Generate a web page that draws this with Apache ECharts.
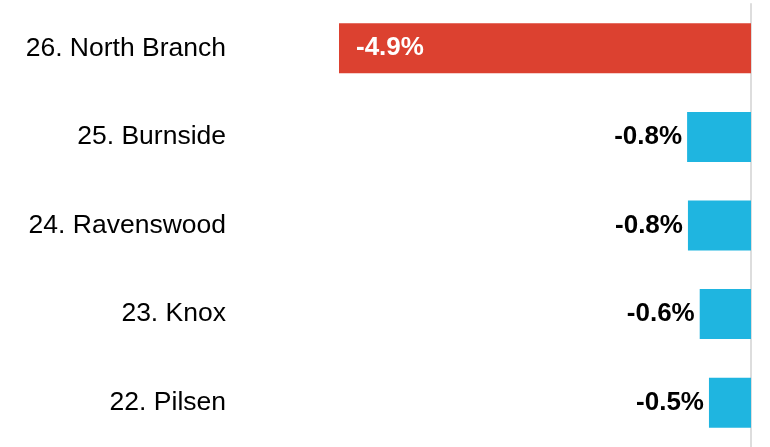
<!DOCTYPE html>
<html>
<head>
<meta charset="utf-8">
<script src="https://cdn.jsdelivr.net/npm/echarts@6/dist/echarts.min.js"></script>
<style>html,body{margin:0;padding:0;background:#fff;}#c{width:770px;height:447px;}</style>
</head>
<body>
<div id="c"></div>
<script>
const categories = ['26. North Branch', '25. Burnside', '24. Ravenswood', '23. Knox', '22. Pilsen'];
const values = [-4.9, -0.76, -0.75, -0.61, -0.5];
const RED = '#dc4130';
const BLUE = '#1fb5e0';
const FONT = 'Liberation Sans, Arial, sans-serif';

const chart = echarts.init(document.getElementById('c'));
chart.setOption({
  animation: false,
  grid: { left: 339, right: 19, top: 4, bottom: -1, containLabel: false },
  xAxis: { type: 'value', min: -4.9, max: 0, show: false },
  yAxis: [{
    type: 'category', data: categories, inverse: true, position: 'right',
    axisLine: { show: true, lineStyle: { color: '#dddddd', width: 2 } },
    axisTick: { show: false }, axisLabel: { show: false }
  }, {
    type: 'category', data: categories, inverse: true, position: 'left',
    axisLine: { show: false }, axisTick: { show: false },
    axisLabel: { show: true, margin: 113, color: '#000', fontFamily: FONT, fontSize: 26.5 }
  }],
  series: [{
    type: 'bar',
    yAxisIndex: 0,
    barWidth: 50,
    data: values.map((v, i) => ({
      value: v,
      itemStyle: { color: i === 0 ? RED : BLUE },
      label: i === 0
        ? { show: true, position: 'insideLeft', distance: 17, color: '#fff' }
        : { show: true, position: 'left', distance: 5, color: '#000' }
    })),
    label: {
      fontFamily: FONT, fontWeight: 'bold', fontSize: 26,
      formatter: p => p.value.toFixed(1) + '%'
    }
  }]
});
</script>
</body>
</html>
